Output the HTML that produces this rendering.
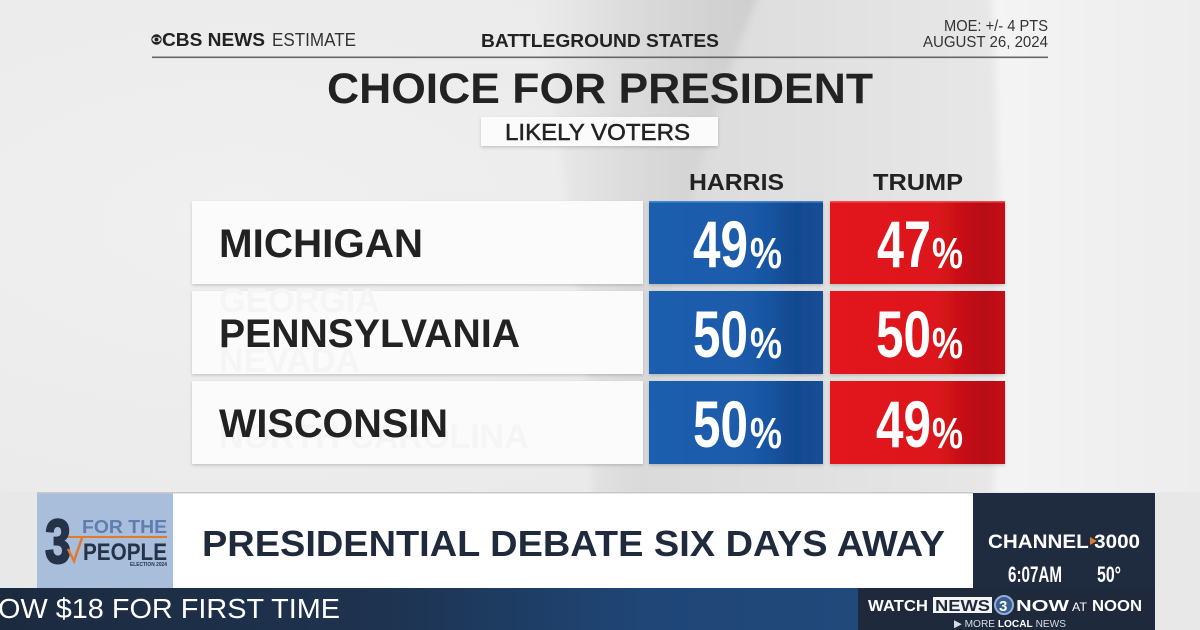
<!DOCTYPE html>
<html>
<head>
<meta charset="utf-8">
<style>
  html,body{margin:0;padding:0;background:#ebebeb;}
  body{width:1200px;height:630px;overflow:hidden;}
  svg{display:block;}
  text{font-family:"Liberation Sans",Arial,sans-serif;}
</style>
</head>
<body>
<svg width="1200" height="630" viewBox="0 0 1200 630" xmlns="http://www.w3.org/2000/svg">
  <defs>
    <radialGradient id="bgL" cx="0.2" cy="0.35" r="0.7">
      <stop offset="0" stop-color="#f0f0f0"/>
      <stop offset="1" stop-color="#e8e8e8"/>
    </radialGradient>
    <linearGradient id="sw" x1="0" y1="0" x2="1" y2="0">
      <stop offset="0" stop-color="#ececec"/>
      <stop offset="0.5" stop-color="#d9d9d9"/>
      <stop offset="1" stop-color="#cdcdcd"/>
    </linearGradient>
    <linearGradient id="mid" x1="0" y1="0" x2="1" y2="0">
      <stop offset="0" stop-color="#dadada"/>
      <stop offset="1" stop-color="#e7e7e7"/>
    </linearGradient>
    <linearGradient id="rt" x1="0" y1="0" x2="1" y2="0">
      <stop offset="0" stop-color="#f4f4f4"/>
      <stop offset="1" stop-color="#ececec"/>
    </linearGradient>
    <linearGradient id="blue" x1="0" y1="0" x2="1" y2="0">
      <stop offset="0" stop-color="#1b5eaf"/>
      <stop offset="0.6" stop-color="#1a5aa9"/>
      <stop offset="0.85" stop-color="#114990"/>
      <stop offset="1" stop-color="#154f97"/>
    </linearGradient>
    <linearGradient id="red" x1="0" y1="0" x2="1" y2="0">
      <stop offset="0" stop-color="#e3161d"/>
      <stop offset="0.6" stop-color="#dc141b"/>
      <stop offset="0.88" stop-color="#b70d13"/>
      <stop offset="1" stop-color="#c41017"/>
    </linearGradient>
    <linearGradient id="tick" x1="0" y1="0" x2="1" y2="0">
      <stop offset="0" stop-color="#1c2a3f"/>
      <stop offset="0.45" stop-color="#1e3350"/>
      <stop offset="0.75" stop-color="#1f4677"/>
      <stop offset="1" stop-color="#21497a"/>
    </linearGradient>
    <filter id="blur" filterUnits="userSpaceOnUse" x="-100" y="-100" width="1400" height="800">
      <feGaussianBlur stdDeviation="4"/>
    </filter>
    <filter id="sh" x="-5%" y="-10%" width="110%" height="130%">
      <feDropShadow dx="0" dy="1.5" stdDeviation="1.5" flood-color="#000" flood-opacity="0.18"/>
    </filter>
  </defs>

  <!-- background -->
  <rect x="0" y="0" width="1200" height="630" fill="url(#bgL)"/>
  <g filter="url(#blur)">
    <path d="M760 -20 L990 -20 C1002 150 1002 350 992 520 L640 520 C650 300 700 120 760 -20 Z" fill="url(#mid)"/>
    <path d="M528 -20 L765 -20 C705 120 655 300 642 520 L594 520 C586 300 562 120 528 -20 Z" fill="url(#sw)"/>
    <path d="M990 -20 L1220 -20 L1220 520 L992 520 C1002 350 1002 150 990 -20 Z" fill="url(#rt)"/>
  </g>

  <!-- header -->
  <circle cx="156.5" cy="39.5" r="5.2" fill="#222"/>
  <ellipse cx="156.5" cy="39.5" rx="4.2" ry="2.6" fill="#eee"/>
  <circle cx="156.5" cy="39.5" r="2" fill="#222"/>
  <text x="162" y="46" font-size="18" font-weight="bold" fill="#222" textLength="103" lengthAdjust="spacingAndGlyphs">CBS NEWS</text>
  <text x="272" y="46" font-size="18" fill="#333" textLength="84" lengthAdjust="spacingAndGlyphs">ESTIMATE</text>
  <text x="481" y="47" font-size="18" font-weight="bold" fill="#222" textLength="238" lengthAdjust="spacingAndGlyphs">BATTLEGROUND STATES</text>
  <text x="944" y="31" font-size="15.5" fill="#333" textLength="104" lengthAdjust="spacingAndGlyphs">MOE: +/- 4 PTS</text>
  <text x="923" y="47" font-size="15.5" fill="#333" textLength="125" lengthAdjust="spacingAndGlyphs">AUGUST 26, 2024</text>
  <rect x="152" y="56.5" width="896" height="1.6" fill="#666"/>

  <text x="327" y="103" font-size="43" font-weight="bold" fill="#222" textLength="546" lengthAdjust="spacingAndGlyphs">CHOICE FOR PRESIDENT</text>

  <rect x="481" y="117" width="237" height="29" fill="#fbfbfb" filter="url(#sh)"/>
  <text x="505" y="140" font-size="23" fill="#222" stroke="#222" stroke-width="0.5" textLength="185" lengthAdjust="spacingAndGlyphs">LIKELY VOTERS</text>

  <text x="689" y="190" font-size="23.5" font-weight="bold" fill="#222" textLength="95" lengthAdjust="spacingAndGlyphs">HARRIS</text>
  <text x="873" y="190" font-size="23.5" font-weight="bold" fill="#222" textLength="90" lengthAdjust="spacingAndGlyphs">TRUMP</text>

  <!-- rows -->
  <g filter="url(#sh)">
    <rect x="192" y="201" width="451" height="83" fill="#fbfbfb"/>
    <rect x="192" y="291" width="451" height="83" fill="#fbfbfb"/>
    <rect x="192" y="381" width="451" height="83" fill="#fbfbfb"/>
    <rect x="649" y="201" width="174" height="83" fill="url(#blue)"/>
    <rect x="649" y="291" width="174" height="83" fill="url(#blue)"/>
    <rect x="649" y="381" width="174" height="83" fill="url(#blue)"/>
    <rect x="830" y="201" width="175" height="83" fill="url(#red)"/>
    <rect x="830" y="291" width="175" height="83" fill="url(#red)"/>
    <rect x="830" y="381" width="175" height="83" fill="url(#red)"/>
  </g>
  <rect x="649" y="201" width="174" height="1.5" fill="#5aa0e0" opacity="0.7"/>
  <rect x="830" y="201" width="175" height="1.5" fill="#ff6a6a" opacity="0.7"/>

  <!-- ghost text (very faint) -->
  <g font-weight="bold" font-size="34" fill="#f5f5f5">
    <text x="219" y="312">GEORGIA</text>
    <text x="219" y="372">NEVADA</text>
    <text x="219" y="448">NORTH CAROLINA</text>
  </g>

  <g font-weight="bold" font-size="40" fill="#222">
    <text x="219" y="257" textLength="204" lengthAdjust="spacingAndGlyphs">MICHIGAN</text>
    <text x="219" y="347" textLength="301" lengthAdjust="spacingAndGlyphs">PENNSYLVANIA</text>
    <text x="219" y="437" textLength="229" lengthAdjust="spacingAndGlyphs">WISCONSIN</text>
  </g>

  <g font-weight="bold" fill="#fff">
    <text x="693" y="267" font-size="66" textLength="55" lengthAdjust="spacingAndGlyphs">49</text>
    <text x="750" y="268" font-size="44" textLength="32" lengthAdjust="spacingAndGlyphs">%</text>
    <text x="693" y="357" font-size="66" textLength="55" lengthAdjust="spacingAndGlyphs">50</text>
    <text x="750" y="358" font-size="44" textLength="32" lengthAdjust="spacingAndGlyphs">%</text>
    <text x="693" y="447" font-size="66" textLength="55" lengthAdjust="spacingAndGlyphs">50</text>
    <text x="750" y="448" font-size="44" textLength="32" lengthAdjust="spacingAndGlyphs">%</text>

    <text x="877" y="267" font-size="66" textLength="54" lengthAdjust="spacingAndGlyphs">47</text>
    <text x="932" y="268" font-size="44" textLength="31" lengthAdjust="spacingAndGlyphs">%</text>
    <text x="876" y="357" font-size="66" textLength="55" lengthAdjust="spacingAndGlyphs">50</text>
    <text x="932" y="358" font-size="44" textLength="31" lengthAdjust="spacingAndGlyphs">%</text>
    <text x="876" y="447" font-size="66" textLength="55" lengthAdjust="spacingAndGlyphs">49</text>
    <text x="932" y="448" font-size="44" textLength="31" lengthAdjust="spacingAndGlyphs">%</text>
  </g>

  <!-- lower third -->
  <rect x="0" y="492" width="1200" height="138" fill="#e8e8e8"/>
  <rect x="37" y="493" width="136" height="95" fill="#a9bedb"/>
  <rect x="173" y="493" width="800" height="95" fill="#ffffff"/>
  <rect x="37" y="492" width="936" height="1.5" fill="#c8c8c8"/>
  <!-- logo -->
  <text x="45" y="563" font-size="62" font-weight="bold" fill="#253248" stroke="#253248" stroke-width="2" textLength="26" lengthAdjust="spacingAndGlyphs">3</text>
  <text x="82" y="533" font-size="18" font-weight="bold" fill="#5e7db1" textLength="85" lengthAdjust="spacingAndGlyphs">FOR THE</text>
  <rect x="68" y="536" width="99" height="2" fill="#e07a2e"/>
  <path d="M68 549 L74 561 L82 538" fill="none" stroke="#e07a2e" stroke-width="2.5"/>
  <text x="83" y="560" font-size="24" font-weight="bold" fill="#253248" textLength="84" lengthAdjust="spacingAndGlyphs">PEOPLE</text>
  <text x="130" y="566" font-size="5" font-weight="bold" fill="#253248" textLength="37" lengthAdjust="spacingAndGlyphs">ELECTION 2024</text>

  <text x="202" y="556" font-size="36" font-weight="bold" fill="#1f2a3d" textLength="743" lengthAdjust="spacingAndGlyphs">PRESIDENTIAL DEBATE SIX DAYS AWAY</text>

  <rect x="973" y="493" width="182" height="137" fill="#1f2b3e"/>
  <text x="988" y="548" font-size="19" font-weight="bold" fill="#fff" textLength="152" lengthAdjust="spacingAndGlyphs">CHANNEL 3000</text>
  <path d="M1090 537 L1097 541 L1090 545 Z" fill="#e07a2e"/>
  <text x="1008" y="582" font-size="22" font-weight="bold" fill="#fff" textLength="54" lengthAdjust="spacingAndGlyphs">6:07AM</text>
  <text x="1097" y="582" font-size="22" font-weight="bold" fill="#fff" textLength="24" lengthAdjust="spacingAndGlyphs">50°</text>

  <rect x="0" y="588" width="858" height="42" fill="url(#tick)"/>
  <rect x="858" y="588" width="297" height="42" fill="#1e2a3c"/>
  <text x="-2" y="618" font-size="28" fill="#fff" textLength="342" lengthAdjust="spacingAndGlyphs">OW $18 FOR FIRST TIME</text>

  <text x="868" y="611" font-size="16" font-weight="bold" fill="#fff" textLength="60" lengthAdjust="spacingAndGlyphs">WATCH</text>
  <rect x="933" y="597" width="59" height="16" fill="#f4f4f4"/>
  <text x="935" y="611" font-size="16" font-weight="bold" fill="#1e2a3c" textLength="55" lengthAdjust="spacingAndGlyphs">NEWS</text>
  <circle cx="1004" cy="605" r="9" fill="#3b5e8e" stroke="#8fb0d8" stroke-width="2"/>
  <text x="999" y="611" font-size="15" font-weight="bold" fill="#fff">3</text>
  <text x="1016" y="611" font-size="16" font-weight="bold" fill="#fff" textLength="53" lengthAdjust="spacingAndGlyphs">NOW</text>
  <text x="1072" y="611" font-size="12" fill="#fff" textLength="15" lengthAdjust="spacingAndGlyphs">AT</text>
  <text x="1092" y="611" font-size="16" font-weight="bold" fill="#fff" textLength="50" lengthAdjust="spacingAndGlyphs">NOON</text>
  <text x="954" y="627" font-size="10.5" fill="#d8dde6" textLength="112" lengthAdjust="spacingAndGlyphs">▶ MORE <tspan font-weight="bold" fill="#fff">LOCAL</tspan> NEWS</text>
</svg>
</body>
</html>
